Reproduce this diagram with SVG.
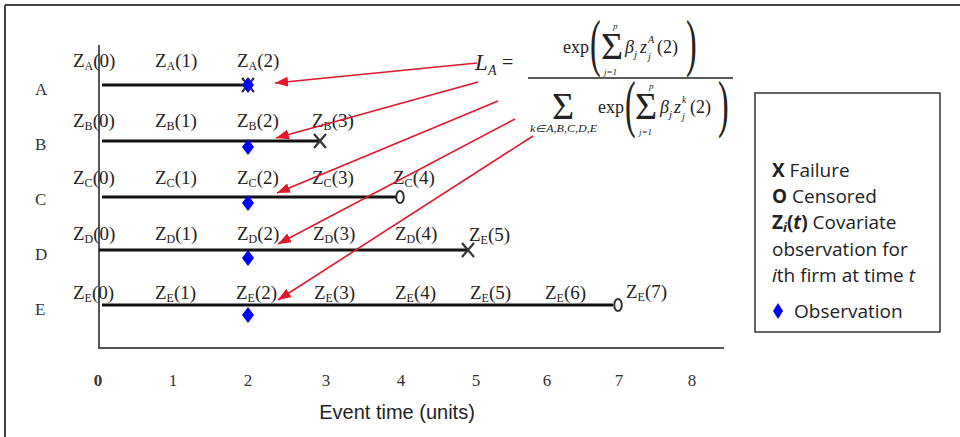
<svg xmlns="http://www.w3.org/2000/svg" width="960" height="437" viewBox="0 0 960 437">
<style>
.z{font-family:"Liberation Serif","Times New Roman",serif;font-size:19px;fill:#222}
.sub{font-size:12px}
.row{font-family:"Liberation Serif","Times New Roman",serif;font-size:17px;fill:#333}
.tick{font-family:"Liberation Serif","Times New Roman",serif;font-size:17px;fill:#333;text-anchor:middle}
.tl{stroke:#111;stroke-width:3;fill:none}
.ax{stroke:#555;stroke-width:2;fill:none}
.xm{stroke:#333;stroke-width:2.2;fill:none}
.om{stroke:#333;stroke-width:2;fill:none}
.dia{fill:#0000ff}
.arr{stroke:#e3172a;stroke-width:1.6;fill:none;marker-end:url(#ah)}
.m{font-family:"Liberation Serif","Times New Roman",serif;fill:#222}
.lg{font-family:"Open Sans","Noto Sans",sans-serif;font-size:19px;fill:#222}
</style>
<defs>
<marker id="ah" markerUnits="userSpaceOnUse" markerWidth="14" markerHeight="10" refX="13" refY="5" orient="auto">
<path d="M0,0 L13,5 L0,10 z" fill="#e3172a"/>
</marker>
</defs>
<rect x="0" y="0" width="960" height="437" fill="#fff"/>
<g id="frame">
<line x1="5" y1="5" x2="960" y2="5" stroke="#444" stroke-width="2"/>
<line x1="5" y1="5" x2="5" y2="437" stroke="#444" stroke-width="2"/>
</g>
<g id="axes">
<line class="ax" x1="99" y1="45" x2="99" y2="349"/>
<line class="ax" x1="98" y1="348" x2="724" y2="348"/>
<text class="tick" x="98" y="386" font-weight="bold">0</text>
<text class="tick" x="173" y="386">1</text>
<text class="tick" x="248" y="386">2</text>
<text class="tick" x="326" y="386">3</text>
<text class="tick" x="401" y="386">4</text>
<text class="tick" x="476" y="386">5</text>
<text class="tick" x="547" y="386">6</text>
<text class="tick" x="619" y="386">7</text>
<text class="tick" x="692" y="386">8</text>
<text x="397" y="419" text-anchor="middle" font-family="Liberation Sans, Arial, sans-serif" font-size="20" fill="#222">Event time (units)</text>
</g>
<g id="rowA">
<text class="row" x="35" y="95">A</text>
<line class="tl" x1="102" y1="85" x2="248" y2="85"/>
<path class="xm" d="M242,78 L254,92 M254,78 L242,92"/>
<polygon class="dia" points="248,77 254,85 248,93 242,85"/>
<text class="z" x="73" y="67">Z<tspan class="sub" dy="3">A</tspan><tspan dy="-3">(0)</tspan></text>
<text class="z" x="155" y="67">Z<tspan class="sub" dy="3">A</tspan><tspan dy="-3">(1)</tspan></text>
<text class="z" x="237" y="67">Z<tspan class="sub" dy="3">A</tspan><tspan dy="-3">(2)</tspan></text>
</g>
<g id="rowB">
<text class="row" x="35" y="150">B</text>
<line class="tl" x1="102" y1="141" x2="320" y2="141"/>
<path class="xm" d="M314,134 L326,148 M326,134 L314,148"/>
<polygon class="dia" points="248,139 254,147 248,155 242,147"/>
<text class="z" x="73" y="127">Z<tspan class="sub" dy="3">B</tspan><tspan dy="-3">(0)</tspan></text>
<text class="z" x="155" y="127">Z<tspan class="sub" dy="3">B</tspan><tspan dy="-3">(1)</tspan></text>
<text class="z" x="237" y="127">Z<tspan class="sub" dy="3">B</tspan><tspan dy="-3">(2)</tspan></text>
<text class="z" x="312" y="127">Z<tspan class="sub" dy="3">B</tspan><tspan dy="-3">(3)</tspan></text>
</g>
<g id="rowC">
<text class="row" x="35" y="205">C</text>
<line class="tl" x1="102" y1="197" x2="396" y2="197"/>
<ellipse class="om" cx="400" cy="197" rx="3.8" ry="6"/>
<polygon class="dia" points="248,195 254,203 248,211 242,203"/>
<text class="z" x="73" y="184">Z<tspan class="sub" dy="3">C</tspan><tspan dy="-3">(0)</tspan></text>
<text class="z" x="155" y="184">Z<tspan class="sub" dy="3">C</tspan><tspan dy="-3">(1)</tspan></text>
<text class="z" x="237" y="184">Z<tspan class="sub" dy="3">C</tspan><tspan dy="-3">(2)</tspan></text>
<text class="z" x="312" y="184">Z<tspan class="sub" dy="3">C</tspan><tspan dy="-3">(3)</tspan></text>
<text class="z" x="393" y="184">Z<tspan class="sub" dy="3">C</tspan><tspan dy="-3">(4)</tspan></text>
</g>
<g id="rowD">
<text class="row" x="35" y="260">D</text>
<line class="tl" x1="99" y1="250" x2="468" y2="250"/>
<path class="xm" d="M462,243 L474,257 M474,243 L462,257"/>
<polygon class="dia" points="248,250 254,258 248,266 242,258"/>
<text class="z" x="73" y="240">Z<tspan class="sub" dy="3">D</tspan><tspan dy="-3">(0)</tspan></text>
<text class="z" x="155" y="240">Z<tspan class="sub" dy="3">D</tspan><tspan dy="-3">(1)</tspan></text>
<text class="z" x="237" y="240">Z<tspan class="sub" dy="3">D</tspan><tspan dy="-3">(2)</tspan></text>
<text class="z" x="313" y="240">Z<tspan class="sub" dy="3">D</tspan><tspan dy="-3">(3)</tspan></text>
<text class="z" x="395" y="240">Z<tspan class="sub" dy="3">D</tspan><tspan dy="-3">(4)</tspan></text>
<text class="z" x="469" y="241">Z<tspan class="sub" dy="3">E</tspan><tspan dy="-3">(5)</tspan></text>
</g>
<g id="rowE">
<text class="row" x="35" y="315">E</text>
<line class="tl" x1="102" y1="305" x2="613" y2="305"/>
<ellipse class="om" cx="618" cy="305" rx="3.8" ry="6"/>
<polygon class="dia" points="248,307 254,315 248,323 242,315"/>
<text class="z" x="73" y="299">Z<tspan class="sub" dy="3">E</tspan><tspan dy="-3">(0)</tspan></text>
<text class="z" x="155" y="299">Z<tspan class="sub" dy="3">E</tspan><tspan dy="-3">(1)</tspan></text>
<text class="z" x="236" y="299">Z<tspan class="sub" dy="3">E</tspan><tspan dy="-3">(2)</tspan></text>
<text class="z" x="314" y="299">Z<tspan class="sub" dy="3">E</tspan><tspan dy="-3">(3)</tspan></text>
<text class="z" x="395" y="299">Z<tspan class="sub" dy="3">E</tspan><tspan dy="-3">(4)</tspan></text>
<text class="z" x="470" y="299">Z<tspan class="sub" dy="3">E</tspan><tspan dy="-3">(5)</tspan></text>
<text class="z" x="545" y="299">Z<tspan class="sub" dy="3">E</tspan><tspan dy="-3">(6)</tspan></text>
<text class="z" x="626" y="298">Z<tspan class="sub" dy="3">E</tspan><tspan dy="-3">(7)</tspan></text>
</g>
<g id="formula">
<text class="m" x="475" y="70" font-size="23" font-style="italic">L</text>
<text class="m" x="488" y="75" font-size="14" font-style="italic">A</text>
<text class="m" x="502" y="69" font-size="20">=</text>
<line x1="528" y1="78" x2="733" y2="78" stroke="#222" stroke-width="1.3"/>
<text class="m" x="563" y="53" font-size="18">exp</text>
<text class="m" transform="translate(590,64) scale(0.5,1)" font-size="64">(</text>
<text class="m" x="601" y="59" font-size="38">Σ</text>
<text class="m" x="613" y="29" font-size="9" font-style="italic">p</text>
<text class="m" x="604" y="75" font-size="9" font-style="italic">j=1</text>
<text class="m" x="625" y="53" font-size="18" font-style="italic">β</text>
<text class="m" x="634" y="58" font-size="11" font-style="italic">j</text>
<text class="m" x="640" y="53" font-size="18" font-style="italic">z</text>
<text class="m" x="648" y="43" font-size="10" font-style="italic">A</text>
<text class="m" x="648" y="60" font-size="10" font-style="italic">j</text>
<text class="m" x="657" y="53" font-size="18">(2)</text>
<text class="m" transform="translate(686,64) scale(0.5,1)" font-size="64">)</text>
<text class="m" x="552" y="119" font-size="38">Σ</text>
<text class="m" x="530" y="132" font-size="10" font-style="italic" textLength="67" lengthAdjust="spacingAndGlyphs">k∈A,B,C,D,E</text>
<text class="m" x="598" y="113" font-size="18">exp</text>
<text class="m" transform="translate(625,125) scale(0.5,1)" font-size="64">(</text>
<text class="m" x="635" y="119" font-size="38">Σ</text>
<text class="m" x="649" y="89" font-size="9" font-style="italic">p</text>
<text class="m" x="639" y="135" font-size="9" font-style="italic">j=1</text>
<text class="m" x="660" y="113" font-size="18" font-style="italic">β</text>
<text class="m" x="669" y="118" font-size="11" font-style="italic">j</text>
<text class="m" x="674" y="113" font-size="18" font-style="italic">z</text>
<text class="m" x="682" y="103" font-size="10" font-style="italic">k</text>
<text class="m" x="682" y="120" font-size="10" font-style="italic">j</text>
<text class="m" x="690" y="113" font-size="18">(2)</text>
<text class="m" transform="translate(718,125) scale(0.5,1)" font-size="64">)</text>
</g>
<g id="legend">
<rect x="755" y="93" width="185" height="239" fill="#fff" stroke="#333" stroke-width="1.5"/>
<text class="lg" x="772" y="177"><tspan font-weight="bold">X</tspan> Failure</text>
<text class="lg" x="772" y="203"><tspan font-weight="bold">O</tspan> Censored</text>
<text class="lg" x="772" y="229"><tspan font-weight="bold">Z<tspan font-style="italic" font-size="13" dy="3">i</tspan><tspan dy="-3">(</tspan><tspan font-style="italic">t</tspan>)</tspan> Covariate</text>
<text class="lg" x="772" y="256">observation for</text>
<text class="lg" x="772" y="282"><tspan font-style="italic">i</tspan>th firm at time <tspan font-style="italic">t</tspan></text>
<polygon class="dia" points="778,303 783,311 778,319 773,311"/>
<text class="lg" x="794" y="318">Observation</text>
</g>
<g id="connectors">
<path class="arr" d="M477,63 L275,83"/>
<path class="arr" d="M478,82 L276,138"/>
<path class="arr" d="M498,101 L277,193"/>
<path class="arr" d="M515,119 L278,244"/>
<path class="arr" d="M533,136 L278,300"/>
</g>
</svg>
